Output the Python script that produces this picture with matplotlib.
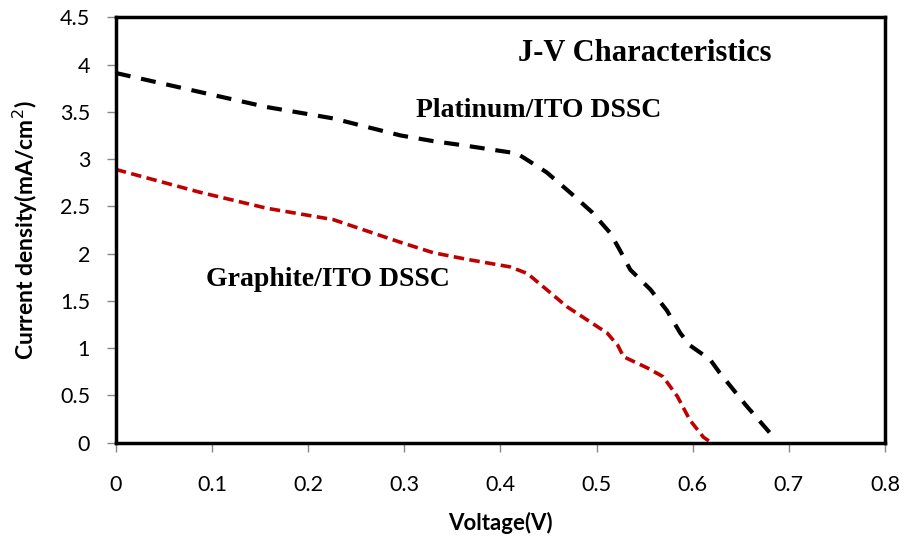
import matplotlib.pyplot as plt

plt.rcParams['font.family'] = ['Lato', 'DejaVu Sans']

# Platinum/ITO DSSC
pt_v = [0.0, 0.087, 0.157, 0.226, 0.296, 0.33, 0.365, 0.417, 0.428, 0.448, 0.472, 0.495,
        0.514, 0.524, 0.535, 0.556, 0.573, 0.587, 0.597, 0.618, 0.628, 0.655, 0.684]
pt_j = [3.91, 3.71, 3.55, 3.43, 3.25, 3.19, 3.14, 3.06, 2.99, 2.86, 2.65, 2.44,
        2.22, 2.04, 1.83, 1.62, 1.40, 1.16, 1.03, 0.88, 0.74, 0.40, 0.06]

# Graphite/ITO DSSC
gr_v = [0.0, 0.087, 0.157, 0.226, 0.296, 0.33, 0.365, 0.41, 0.428, 0.448, 0.469, 0.49,
        0.511, 0.522, 0.528, 0.553, 0.569, 0.584, 0.597, 0.611, 0.618]
gr_j = [2.89, 2.65, 2.48, 2.36, 2.12, 2.01, 1.94, 1.86, 1.79, 1.62, 1.44, 1.30,
        1.16, 1.03, 0.91, 0.79, 0.70, 0.49, 0.24, 0.06, 0.01]

fig = plt.figure(figsize=(9.05, 5.38), dpi=100)
ax = fig.add_axes([0.128, 0.177, 0.850, 0.791])

ax.plot(pt_v, pt_j, color='black', lw=3, dashes=(3.6, 2.6))
ax.plot(gr_v, gr_j, color='#C00000', lw=2.6, dashes=(2.9, 1.5))

ax.set_xlim(0, 0.8)
ax.set_ylim(0, 4.5)
ax.set_xticks([0, 0.1, 0.2, 0.3, 0.4, 0.5, 0.6, 0.7, 0.8])
ax.set_xticklabels(['0', '0.1', '0.2', '0.3', '0.4', '0.5', '0.6', '0.7', '0.8'])
ax.set_yticks([0, 0.5, 1, 1.5, 2, 2.5, 3, 3.5, 4, 4.5])
ax.set_yticklabels(['0', '0.5', '1', '1.5', '2', '2.5', '3', '3.5', '4', '4.5'])

for s in ax.spines.values():
    s.set_linewidth(2.5)
    s.set_color('black')
ax.tick_params(axis='x', direction='out', length=6.5, width=1, color='#888888',
               labelsize=15.5, pad=17)
ax.tick_params(axis='y', direction='out', length=6.5, width=1, color='#888888',
               labelsize=15.5, pad=12)

ax.set_xlabel('Voltage(V)', fontsize=16, fontweight='bold', labelpad=12)
ax.set_ylabel('Current density(mA/cm$^2$)', fontsize=16.5, fontweight='bold', labelpad=14)

serif = ['Liberation Serif', 'DejaVu Serif']
ax.text(0.55, 4.04, 'J-V Characteristics', family=serif, fontsize=22,
        fontweight='bold', ha='center', va='baseline')
ax.text(0.44, 3.44, 'Platinum/ITO DSSC', family=serif, fontsize=20,
        fontweight='bold', ha='center', va='baseline')
ax.text(0.221, 1.66, 'Graphite/ITO DSSC', family=serif, fontsize=20,
        fontweight='bold', ha='center', va='baseline')

fig.savefig('out.png', dpi=100)
